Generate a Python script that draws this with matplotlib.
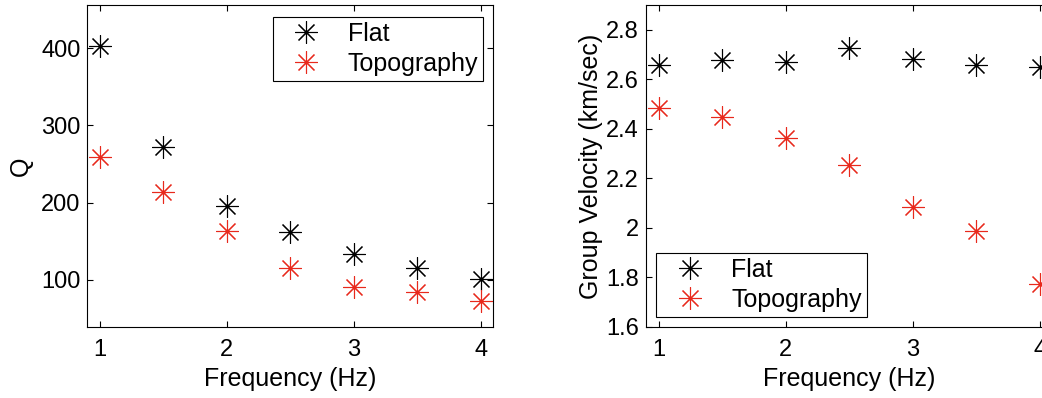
import numpy as np
import matplotlib.pyplot as plt

plt.rcParams['font.family'] = ['Liberation Sans', 'DejaVu Sans']
plt.rcParams['font.size'] = 17

freq = [1, 1.5, 2, 2.5, 3, 3.5, 4]
q_flat = [403, 272, 196, 162, 134, 116, 101]
q_topo = [259, 214, 163, 116, 91, 84, 73]
v_flat = [2.659, 2.677, 2.668, 2.726, 2.681, 2.659, 2.649]
v_topo = [2.486, 2.446, 2.365, 2.254, 2.085, 1.989, 1.773]

red = '#e8291c'
star = (8, 2, 0)  # matlab-ish asterisk


def style_ax(ax):
    ax.tick_params(direction='in', top=True, right=True, length=4, width=0.8, labelsize=17)
    ax.tick_params(axis='x', pad=9)
    ax.tick_params(axis='y', pad=5)
    for s in ax.spines.values():
        s.set_linewidth(0.8)


def add_legend(ax, loc, anchor):
    leg = ax.legend(loc=loc, bbox_to_anchor=anchor, fancybox=False, fontsize=18,
                    edgecolor='k', framealpha=1, borderpad=0.2, handlelength=2.3,
                    handletextpad=0.5, labelspacing=0.25, borderaxespad=0)
    leg.get_frame().set_linewidth(0.8)


fig = plt.figure(figsize=(10.42, 3.98), dpi=100)

ax1 = fig.add_axes([0.0838, 0.1784, 0.3896, 0.809])
ax1.plot(freq, q_flat, ls='none', marker=star, ms=16, mew=0.8, color='k', label='Flat')
ax1.plot(freq, q_topo, ls='none', marker=star, ms=16, mew=0.8, color=red, label='Topography')
ax1.set_xlim(0.9, 4.1)
ax1.set_ylim(39, 456)
ax1.set_xticks([1, 2, 3, 4])
ax1.set_yticks([100, 200, 300, 400])
ax1.set_xlabel('Frequency (Hz)', fontsize=18, labelpad=4)
ax1.set_ylabel('Q', fontsize=18, labelpad=6)
style_ax(ax1)
add_legend(ax1, 'upper right', (0.975, 0.964))

ax2 = fig.add_axes([0.620, 0.1784, 0.3903, 0.809])
ax2.plot(freq, v_flat, ls='none', marker=star, ms=16, mew=0.8, color='k', label='Flat')
ax2.plot(freq, v_topo, ls='none', marker=star, ms=16, mew=0.8, color=red, label='Topography')
ax2.set_xlim(0.9, 4.1)
ax2.set_ylim(1.6, 2.9)
ax2.set_xticks([1, 2, 3, 4])
ax2.set_yticks([1.6, 1.8, 2.0, 2.2, 2.4, 2.6, 2.8])
ax2.set_yticklabels(['1.6', '1.8', '2', '2.2', '2.4', '2.6', '2.8'])
ax2.set_xlabel('Frequency (Hz)', fontsize=18, labelpad=4)
ax2.set_ylabel('Group Velocity (km/sec)', fontsize=18, labelpad=2)
style_ax(ax2)
add_legend(ax2, 'lower left', (0.025, 0.031))

fig.savefig('out.png', dpi=100)
